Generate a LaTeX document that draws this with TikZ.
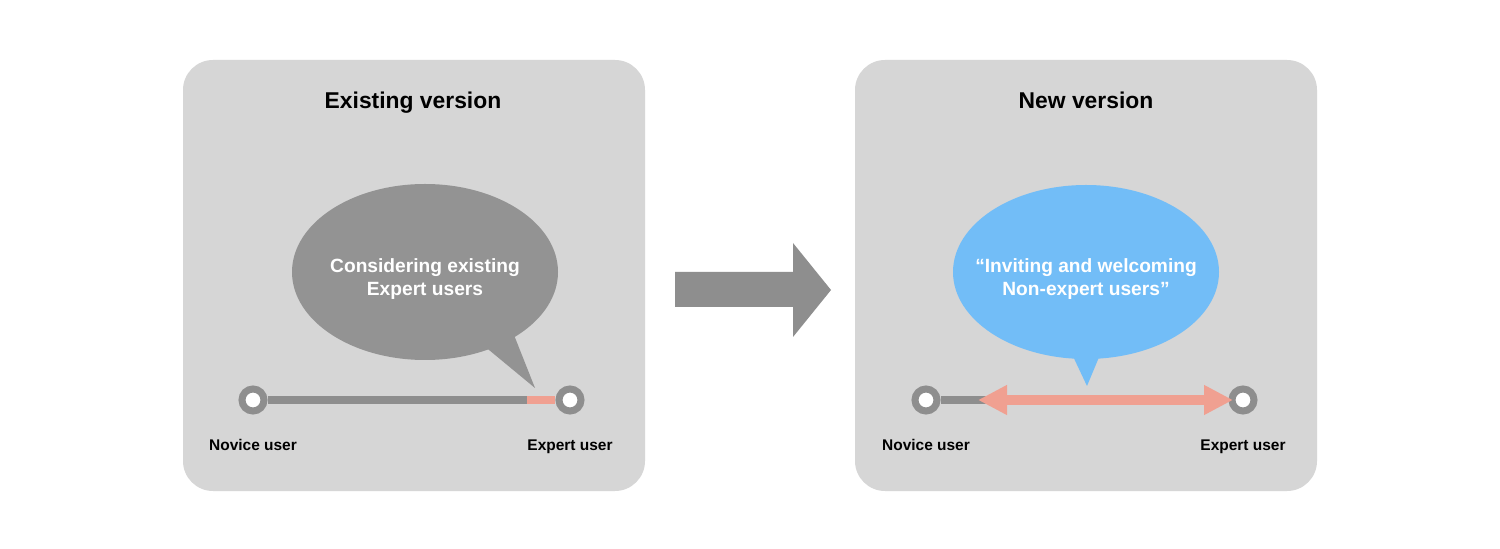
\documentclass[tikz,border=0pt]{standalone}
\usepackage{fontspec}
\setmainfont{Liberation Sans}
\usepackage{tikz}
\usetikzlibrary{arrows.meta,positioning}

\definecolor{panelgray}{HTML}{D6D6D6}
\definecolor{bubblegray}{HTML}{939393}
\definecolor{ringgray}{HTML}{8E8E8E}
\definecolor{bubbleblue}{HTML}{72BDF7}
\definecolor{salmon}{HTML}{F0A091}

\begin{document}
\begin{tikzpicture}[
        x=0.01cm, y=-0.01cm,
        % panels and titles
        panel/.style={fill=panelgray, rounded corners=0.3cm},
        title/.style={font=\bfseries\fontsize{6.5}{8}\selectfont, text=black, anchor=base},
        % bubble text and user labels
        bubbletext/.style={font=\bfseries\fontsize{5.45}{6.5}\selectfont, text=white, align=center},
        userlabel/.style={font=\bfseries\fontsize{4.4}{5}\selectfont, text=black, anchor=base},
        % end points of the user line
        ring/.style={circle, draw=ringgray, fill=white, line width=0.07cm, minimum size=0.22cm, inner sep=0pt},
        track/.style={draw=ringgray, line width=0.07cm},
        hot/.style={draw=salmon, line width=0.07cm},
        both/.style={draw=salmon, line width=0.1cm, {Triangle[length=0.29cm, width=0.28cm]}-{Triangle[length=0.29cm, width=0.28cm]}}
    ]
        \useasboundingbox[fill=white] (0,0) rectangle (1500,549);

        % 1. Panels
        \fill[panel] (183,60) rectangle (645,491);
        \fill[panel] (855,60) rectangle (1317,491);
        \node[title] (oldtitle) at (413,109) {Existing version};
        \node[title] (newtitle) at (1086,109) {New version};

        % 2. Speech bubbles
        \fill[bubblegray] (425,272) ellipse [x radius=133, y radius=88];
        \fill[bubblegray] (483,345) -- (512,330) -- (535,388) -- cycle;
        \node[bubbletext] (oldtext) at (425,279) {Considering existing\\Expert users};

        \fill[bubbleblue] (1086,272) ellipse [x radius=133, y radius=87];
        \fill[bubbleblue] (1070,350) -- (1102,350) -- (1087,386) -- cycle;
        \node[bubbletext] (newtext) at (1086,279) {“Inviting and welcoming\\Non-expert users”};

        % 3. Big arrow between the panels
        \fill[ringgray] (675,272) -- (793,272) -- (793,243) -- (831,290) -- (793,337) -- (793,307) -- (675,307) -- cycle;

        % 4. User lines
        \node[ring] (novold) at (253,400) {};
        \node[ring] (expold) at (570,400) {};
        \coordinate (hotstart) at (527,400);
        \draw[track] (novold) -- (hotstart);
        \draw[hot] (hotstart) -- (expold);
        \node[userlabel] (novoldlabel) at (253,450) {Novice user};
        \node[userlabel] (expoldlabel) at (570,450) {Expert user};

        \node[ring] (novnew) at (926,400) {};
        \node[ring] (expnew) at (1243,400) {};
        \coordinate (spanleft) at (978,400);
        \coordinate (spanright) at (1233,400);
        \draw[track] (novnew) -- (995,400);
        \draw[both] (spanleft) -- (spanright);
        \node[userlabel] (novnewlabel) at (926,450) {Novice user};
        \node[userlabel] (expnewlabel) at (1243,450) {Expert user};

    \end{tikzpicture}
\end{document}
